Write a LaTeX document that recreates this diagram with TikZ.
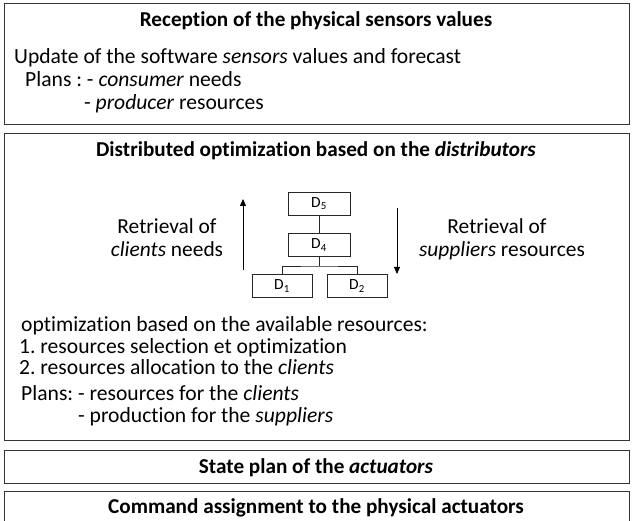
\documentclass[tikz,border=0pt]{standalone}
\usepackage{fontspec}
\setmainfont{Carlito}[Ligatures=NoCommon]
\usetikzlibrary{arrows.meta}
\frenchspacing
\tikzset{
  frame/.style={draw=black!80, line width=0.9pt, rectangle, inner sep=0pt},
  dbox/.style={draw=black!85, line width=0.7pt, rectangle, minimum width=62pt, minimum height=23pt, inner sep=0pt, font=\fontsize{15.5}{17}\selectfont},
  txt/.style={anchor=base west, inner sep=0pt, font=\fontsize{21.6}{24}\selectfont\frenchspacing},
  ttl/.style={anchor=base, inner sep=0pt, font=\fontsize{21.2}{24}\selectfont\bfseries\frenchspacing},
  ctxt/.style={anchor=base, inner sep=0pt, font=\fontsize{21.4}{24}\selectfont},
  link/.style={draw=black!85, line width=0.7pt},
  flow/.style={draw=black, line width=0.9pt, -{Triangle[length=7pt,width=6pt]}}
}
\begin{document}
\begin{tikzpicture}[x=1pt,y=-1pt]
\useasboundingbox (0,0) rectangle (632,521);
\clip (0,0) rectangle (632,521);
\fill[white] (0,0) rectangle (632,521);
% frames
\node[frame, minimum width=625pt, minimum height=121pt] (b1) at (316.5,63.5) {};
\node[frame, minimum width=625pt, minimum height=307pt] (b2) at (316.5,286.5) {};
\node[frame, minimum width=625pt, minimum height=33pt] (b3) at (316.5,466.5) {};
\node[frame, minimum width=625pt, minimum height=50pt] (b4) at (316.5,516) {};
% box 1
\node[ttl] (t1) at (316,27) {Reception of the physical sensors values};
\node[txt] (u1) at (14,64) {Update of the software \textit{sensors} values and forecast};
\node[txt] (p1) at (25,87) {Plans : - \textit{consumer} needs};
\node[txt] (p2) at (84,110) {- \textit{producer} resources};
% box 2
\node[ttl] (t2) at (316,157) {Distributed optimization based on the \textit{distributors}};
\node[dbox] (d5) at (319,203.5) {D\textsubscript{5}};
\node[dbox] (d4) at (319,245) {D\textsubscript{4}};
\node[dbox, minimum width=60pt] (d1) at (282,286) {D\textsubscript{1}};
\node[dbox, minimum width=60pt] (d2) at (357,286) {D\textsubscript{2}};
\coordinate (j) at (319,266);
\draw[link] (d5) -- (d4);
\draw[link] (d4) -- (j);
\draw[link] (d1.north) |- (j) -| (d2.north);
\coordinate (ua) at (243,270);
\coordinate (ub) at (243,199);
\coordinate (da) at (397,208);
\coordinate (db) at (397,274);
\draw[flow] (ua) -- (ub);
\draw[flow] (da) -- (db);
\node[ctxt] (l1) at (167,234) {Retrieval of};
\node[ctxt] (l2) at (167,257) {\textit{clients} needs};
\node[ctxt] (r1) at (497,234) {Retrieval of};
\node[ctxt] (r2) at (502,257) {\textit{suppliers} resources};
\node[txt] (o1) at (21,332) {optimization based on the available resources:};
\node[txt] (o2) at (19,353) {1. resources selection et optimization};
\node[txt] (o3) at (19,374) {2. resources allocation to the \textit{clients}};
\node[txt] (o4) at (21,400) {Plans: - resources for the \textit{clients}};
\node[txt] (o5) at (78,422) {- production for the \textit{suppliers}};
% box 3, 4
\node[ttl] (t3) at (316,473) {State plan of the \textit{actuators}};
\node[ttl] (t4) at (316,513) {Command assignment to the physical actuators};
\end{tikzpicture}
\end{document}
